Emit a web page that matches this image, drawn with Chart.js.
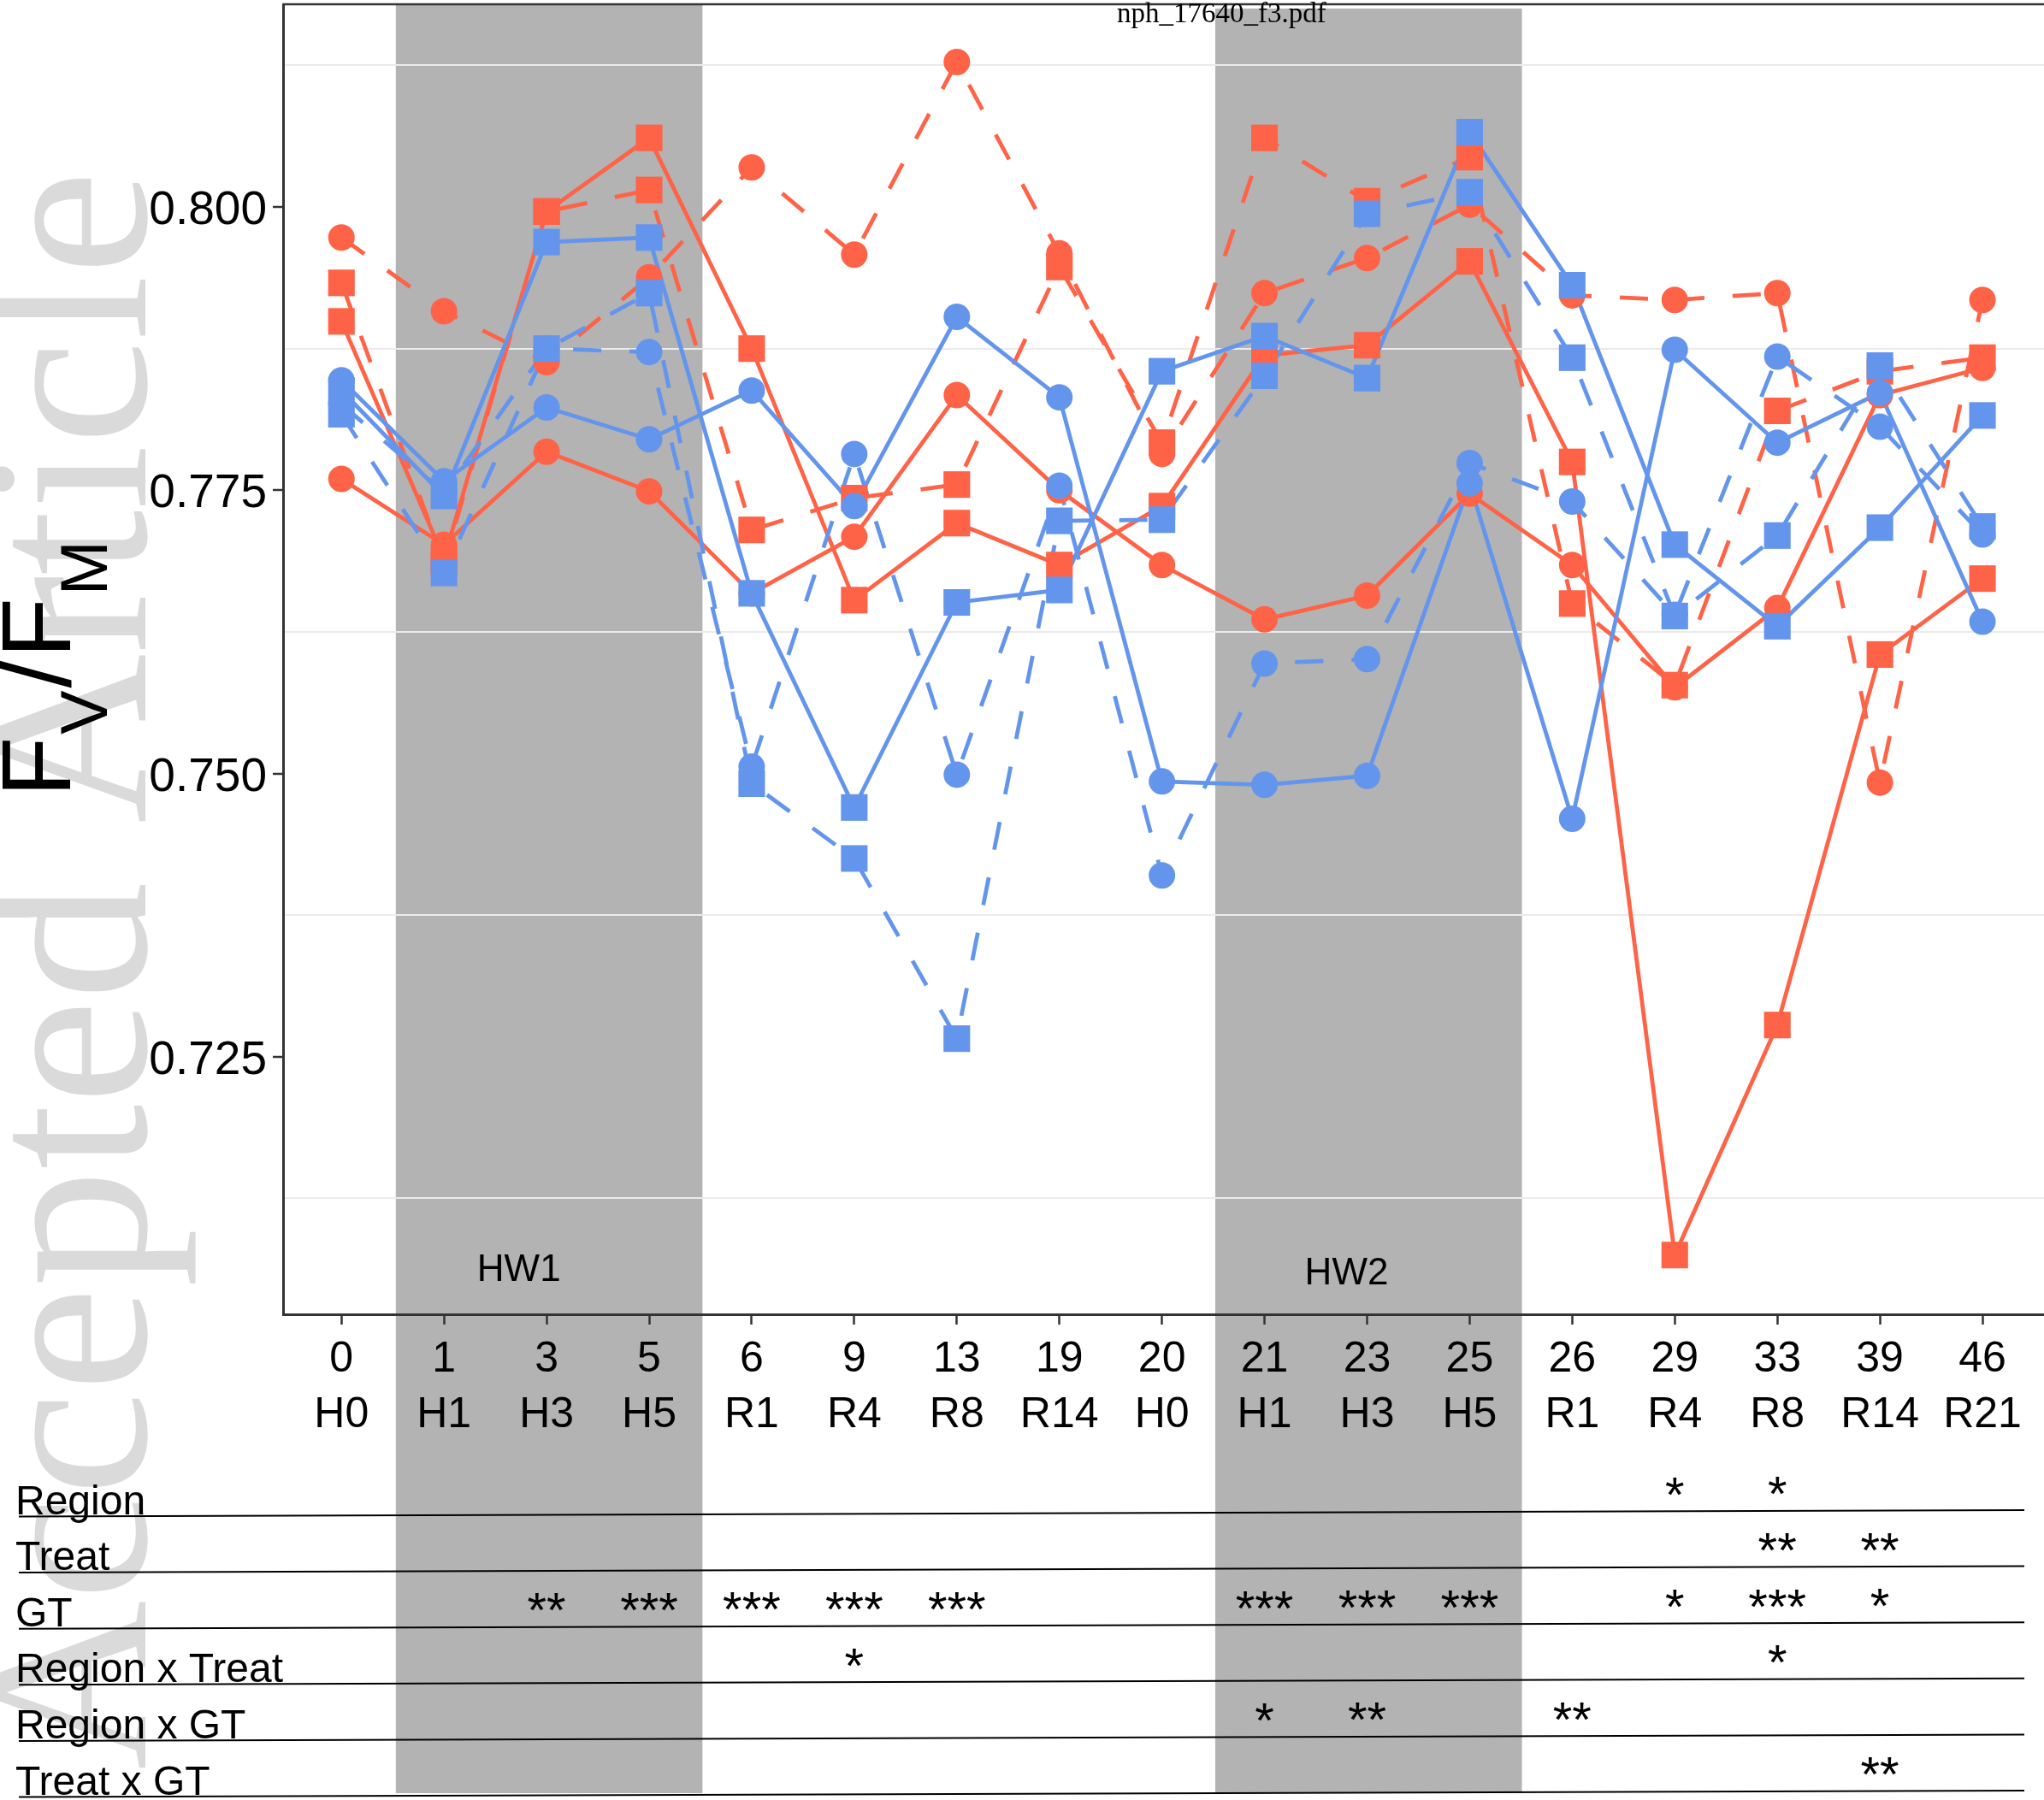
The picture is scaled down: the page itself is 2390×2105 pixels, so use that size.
<!DOCTYPE html>
<html>
<head>
<meta charset="utf-8">
<script src="https://cdn.jsdelivr.net/npm/chart.js@4.4.1/dist/chart.umd.min.js"></script>
<style>
  html, body { margin: 0; padding: 0; background: #fff; }
  #wrap { width: 2390px; height: 2105px; }
</style>
</head>
<body>
<div id="wrap"><canvas id="chart" width="2390" height="2105"></canvas></div>
<script>
// ===== Data =====
const days   = ['0','1','3','5','6','9','13','19','20','21','23','25','26','29','33','39','46'];
const phases = ['H0','H1','H3','H5','R1','R4','R8','R14','H0','H1','H3','H5','R1','R4','R8','R14','R21'];

const redCircleSolid   = [0.7760, 0.7702, 0.7784, 0.7749, 0.7659, 0.7709, 0.7834, 0.7750, 0.7684, 0.7636, 0.7657, 0.7747, 0.7684, 0.7576, 0.7646, 0.7834, 0.7858];
const redCircleDashed  = [0.7973, 0.7908, 0.7863, 0.7938, 0.8035, 0.7958, 0.8128, 0.7959, 0.7782, 0.7924, 0.7955, 0.8002, 0.7922, 0.7918, 0.7924, 0.7492, 0.7918];
const redSquareSolid   = [0.7899, 0.7690, 0.7996, 0.8061, 0.7875, 0.7653, 0.7721, 0.7684, 0.7736, 0.7869, 0.7878, 0.7952, 0.7775, 0.7075, 0.7278, 0.7605, 0.7672];
const redSquareDashed  = [0.7933, 0.7686, 0.7996, 0.8015, 0.7715, 0.7743, 0.7755, 0.7947, 0.7792, 0.8061, 0.8005, 0.8044, 0.7650, 0.7578, 0.7820, 0.7855, 0.7867];
const blueCircleSolid  = [0.7847, 0.7758, 0.7823, 0.7795, 0.7838, 0.7736, 0.7903, 0.7832, 0.7493, 0.7490, 0.7498, 0.7756, 0.7460, 0.7874, 0.7792, 0.7836, 0.7634];
const blueCircleDashed = [0.7826, 0.7748, 0.7875, 0.7872, 0.7506, 0.7782, 0.7499, 0.7754, 0.7410, 0.7597, 0.7601, 0.7774, 0.7740, 0.7640, 0.7868, 0.7806, 0.7711];
const blueSquareSolid  = [0.7838, 0.7745, 0.7969, 0.7973, 0.7659, 0.7470, 0.7651, 0.7662, 0.7855, 0.7886, 0.7849, 0.8066, 0.7931, 0.7702, 0.7630, 0.7717, 0.7816];
const blueSquareDashed = [0.7817, 0.7677, 0.7875, 0.7924, 0.7491, 0.7425, 0.7266, 0.7723, 0.7724, 0.7851, 0.7994, 0.8013, 0.7867, 0.7639, 0.7710, 0.7860, 0.7718];

const yLabelTicks = [0.725, 0.750, 0.775, 0.800];
const yGridTicks  = [0.7125, 0.7375, 0.7625, 0.7875, 0.8125];

const tableRows = ['Region', 'Treat', 'GT', 'Region x Treat', 'Region x GT', 'Treat x GT'];
const starsRegion      = ['','','','','','','','','','','','','','*','*','',''];
const starsTreat       = ['','','','','','','','','','','','','','','**','**',''];
const starsGT          = ['','','**','***','***','***','***','','','***','***','***','','*','***','*',''];
const starsRegionTreat = ['','','','','','*','','','','','','','','','*','',''];
const starsRegionGT    = ['','','','','','','','','','*','**','','**','','','',''];
const starsTreatGT     = ['','','','','','','','','','','','','','','','**',''];
const tableStars = [starsRegion, starsTreat, starsGT, starsRegionTreat, starsRegionGT, starsTreatGT];

const heatwaves = [
  { label: 'HW1', from: 0.53, to: 3.52, labelAt: 1.73, labelY: 0.7061, top: 5 },
  { label: 'HW2', from: 8.52, to: 11.51, labelAt: 9.8, labelY: 0.7058, top: 10 },
];

// ===== Style =====
const RED = '#FF6347';
const BLUE = '#6495ED';
const BAND = '#B3B3B3';
const SANS = '"Liberation Sans", Arial, Helvetica, sans-serif';
const SERIF = '"Liberation Serif", "Times New Roman", serif';
const DASH = [33, 33];

Chart.defaults.font.family = SANS;
Chart.defaults.color = '#000';

const toPoints = (arr) => arr.map((v, i) => ({ x: i, y: v }));
const isMajor = (v) => Math.round(v * 10000) % 250 === 0;

const series = [
  { data: blueSquareSolid,  color: BLUE, shape: 'rect',   dash: [] },
  { data: blueSquareDashed, color: BLUE, shape: 'rect',   dash: DASH },
  { data: blueCircleSolid,  color: BLUE, shape: 'circle', dash: [] },
  { data: blueCircleDashed, color: BLUE, shape: 'circle', dash: DASH },
  { data: redSquareSolid,   color: RED,  shape: 'rect',   dash: [] },
  { data: redSquareDashed,  color: RED,  shape: 'rect',   dash: DASH },
  { data: redCircleSolid,   color: RED,  shape: 'circle', dash: [] },
  { data: redCircleDashed,  color: RED,  shape: 'circle', dash: DASH },
];

// lines first (drawn underneath), then markers on top
const lineSets = series.map((s, i) => ({
  data: toPoints(s.data),
  borderColor: s.color,
  borderWidth: 4.8,
  borderDash: s.dash,
  pointRadius: 0,
  tension: 0,
  order: 20 + i,
}));
const pointSets = series.map((s, i) => ({
  data: toPoints(s.data),
  showLine: false,
  pointStyle: s.shape,
  pointRadius: s.shape === 'rect' ? 22 : 15.5,
  pointBackgroundColor: s.color,
  pointBorderWidth: 0,
  order: i,
}));

const decor = {
  id: 'decor',
  beforeDraw(chart) {
    const { ctx, scales: { x } } = chart;
    // watermark
    ctx.save();
    ctx.translate(170, 2070);
    ctx.rotate(-Math.PI / 2);
    ctx.font = `275px ${SERIF}`;
    ctx.fillStyle = '#dadada';
    ctx.textBaseline = 'alphabetic';
    ctx.fillText('Accepted Article', 0, 0);
    ctx.restore();
    // heat-wave bands
    ctx.save();
    ctx.fillStyle = BAND;
    heatwaves.forEach(h => {
      const l = x.getPixelForValue(h.from), r = x.getPixelForValue(h.to);
      ctx.fillRect(l, h.top, r - l, 2097 - h.top);
    });
    ctx.restore();
  },
  beforeDatasetsDraw(chart) {
    const { ctx, scales: { x, y } } = chart;
    ctx.save();
    ctx.font = `44px ${SANS}`;
    ctx.fillStyle = '#000';
    ctx.textAlign = 'center';
    ctx.textBaseline = 'middle';
    heatwaves.forEach(h => ctx.fillText(h.label, x.getPixelForValue(h.labelAt), y.getPixelForValue(h.labelY)));
    ctx.restore();
  },
  afterDraw(chart) {
    const { ctx, chartArea, scales: { x } } = chart;
    ctx.save();
    // top frame line
    ctx.strokeStyle = '#333';
    ctx.lineWidth = 2.5;
    ctx.beginPath();
    ctx.moveTo(chartArea.left, chartArea.top);
    ctx.lineTo(chartArea.right, chartArea.top);
    ctx.stroke();

    // file name
    ctx.font = `33px ${SERIF}`;
    ctx.fillStyle = '#000';
    ctx.textBaseline = 'alphabetic';
    ctx.fillText('nph_17640_f3.pdf', 1306, 26);

    // y title F_V/F_M
    ctx.save();
    ctx.translate(82, 0);
    ctx.rotate(-Math.PI / 2);
    const big = `115px ${SANS}`, small = `77px ${SANS}`;
    const parts = [['F', big, 0], ['V', small, 43], ['/', big, 0], ['F', big, 0], ['M', small, 43]];
    let u = -932;
    parts.forEach(([t, f, dv]) => {
      ctx.font = f;
      ctx.fillText(t, u, dv);
      u += ctx.measureText(t).width + 3;
    });
    ctx.restore();

    // significance table
    const x0 = 22, x1 = 2367;
    ctx.strokeStyle = '#000';
    ctx.lineWidth = 2;
    tableRows.forEach((label, r) => {
      const yl = 1773.5 + r * 65.6;
      const yr = yl - 7.5;
      const yAt = (px) => yl + (yr - yl) * (px - x0) / (x1 - x0);
      ctx.beginPath();
      ctx.moveTo(x0, yl);
      ctx.lineTo(x1, yr);
      ctx.stroke();
      ctx.font = `48px ${SANS}`;
      ctx.textAlign = 'left';
      ctx.textBaseline = 'alphabetic';
      ctx.fillText(label, 18, yl - 3);
      ctx.font = `58px ${SANS}`;
      ctx.textAlign = 'center';
      tableStars[r].forEach((s, i) => {
        if (!s) return;
        const px = x.getPixelForValue(i);
        const m = ctx.measureText(s);
        const cy = yAt(px) - 29;
        ctx.fillText(s, px, cy + (m.actualBoundingBoxAscent - m.actualBoundingBoxDescent) / 2);
      });
    });
    ctx.restore();
  }
};

new Chart(document.getElementById('chart'), {
  type: 'line',
  data: { datasets: [...pointSets, ...lineSets] },
  plugins: [decor],
  options: {
    responsive: false,
    animation: false,
    layout: { autoPadding: false, padding: { top: 5, left: 0, right: 0, bottom: 0 } },
    plugins: { legend: { display: false }, tooltip: { enabled: false } },
    scales: {
      x: {
        type: 'linear',
        min: -0.569,
        max: 16.6,
        afterBuildTicks: (s) => { s.ticks = days.map((_, i) => ({ value: i })); },
        afterFit: (s) => { s.height = 568; s.paddingLeft = 0; s.paddingRight = 0; },
        grid: { drawOnChartArea: false, drawTicks: true, tickLength: 12, tickColor: '#333', tickWidth: 2.5 },
        border: { color: '#333', width: 3 },
        ticks: {
          autoSkip: false,
          maxRotation: 0,
          padding: 8,
          color: '#000',
          font: { size: 50, lineHeight: 1.31 },
          callback: (v, i) => [days[i], phases[i]],
        },
      },
      y: {
        min: 0.70227,
        max: 0.81789,
        afterBuildTicks: (s) => {
          s.ticks = [...yGridTicks, ...yLabelTicks].sort((a, b) => a - b).map(v => ({ value: v }));
        },
        afterFit: (s) => { s.width = 331; s.paddingTop = 0; s.paddingBottom = 0; },
        grid: {
          color: (c) => (c.tick && isMajor(c.tick.value)) ? 'rgba(0,0,0,0)' : '#ebebeb',
          lineWidth: 2,
          tickColor: (c) => (c.tick && isMajor(c.tick.value)) ? '#333' : 'rgba(0,0,0,0)',
          tickLength: 12,
          tickWidth: 2.5,
        },
        border: { color: '#333', width: 3 },
        ticks: {
          padding: 7,
          labelOffset: 5,
          color: '#000',
          font: { size: 55 },
          callback: (v) => isMajor(v) ? v.toFixed(3) : '',
        },
      },
    },
  },
});
</script>
</body>
</html>
